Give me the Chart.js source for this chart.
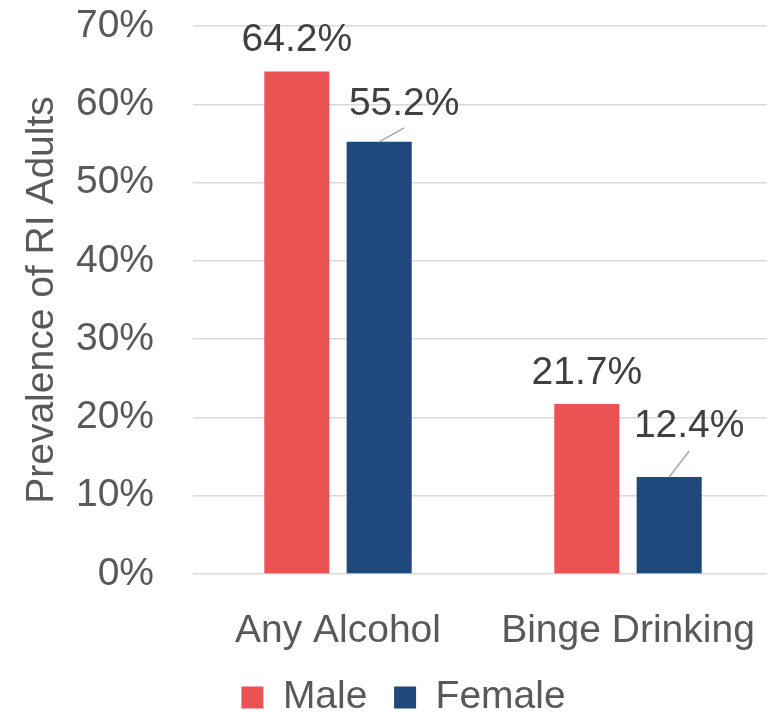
<!DOCTYPE html>
<html>
<head>
<meta charset="utf-8">
<script src="https://cdn.jsdelivr.net/npm/chart.js@4.4.0/dist/chart.umd.min.js"></script>
<style>
  html, body { margin: 0; padding: 0; background: #fff; overflow: hidden; }
  #wrap { width: 780px; height: 727px; }
</style>
</head>
<body>
<div id="wrap"><canvas id="chart" width="780" height="727"></canvas></div>
<script>
const categories = ["Any Alcohol", "Binge Drinking"];
const maleValues = [64.2, 21.7];
const femaleValues = [55.2, 12.4];
const yTicks = [0, 10, 20, 30, 40, 50, 60, 70];

const FONT = "'Liberation Sans', Arial, sans-serif";
const FS = 39;

// where Excel had the labels dragged to (pixels from bar top centre)
const labelPlacement = [
  [{ dx: 0, dy: -20 }, { dx: 0, dy: -20 }],
  [{ dx: 25, dy: -27, lx: 25, ly: -14 }, { dx: 20, dy: -40, lx: 20, ly: -26 }]
];

const valueLabels = {
  id: "valueLabels",
  beforeDraw(chart) {
    // nudge legend right of the canvas centre, like the original
    const lg = chart.legend;
    if (lg) { lg.left += 17; lg.right += 17; }
  },
  afterDatasetsDraw(chart) {
    const ctx = chart.ctx;
    ctx.save();
    chart.data.datasets.forEach((ds, di) => {
      const meta = chart.getDatasetMeta(di);
      meta.data.forEach((bar, i) => {
        const p = labelPlacement[di][i];
        if (p.lx !== undefined) {
          ctx.strokeStyle = "#a6a6a6";
          ctx.lineWidth = 1.5;
          ctx.beginPath();
          ctx.moveTo(bar.x, bar.y);
          ctx.lineTo(bar.x + p.lx, bar.y + p.ly);
          ctx.stroke();
        }
        ctx.fillStyle = "#404040";
        ctx.font = FS + "px " + FONT;
        ctx.textAlign = "center";
        ctx.textBaseline = "alphabetic";
        ctx.fillText(ds.data[i].toFixed(1) + "%", bar.x + p.dx, bar.y + p.dy);
      });
    });
    ctx.restore();
  }
};

new Chart(document.getElementById("chart"), {
  type: "bar",
  data: {
    labels: categories,
    datasets: [
      {
        label: "Male  ",
        data: maleValues,
        backgroundColor: "#EA5254",
        categoryPercentage: 0.568,
        barPercentage: 0.79
      },
      {
        label: "Female",
        data: femaleValues,
        backgroundColor: "#1F487C",
        categoryPercentage: 0.568,
        barPercentage: 0.79
      }
    ]
  },
  options: {
    responsive: false,
    animation: false,
    layout: { padding: { top: 26, left: 0, right: 7, bottom: 0 } },
    plugins: {
      tooltip: { enabled: false },
      legend: {
        position: "bottom",
        labels: {
          boxWidth: 22,
          boxHeight: 22,
          padding: 5,
          color: "#595959",
          font: { family: FONT, size: FS }
        }
      }
    },
    scales: {
      x: {
        afterFit(scale) {
          scale.height = 99;
          scale.paddingLeft = 0;
          scale.paddingRight = 0;
        },
        grid: { display: false },
        border: { display: false },
        ticks: {
          color: "#595959",
          padding: 26,
          maxRotation: 0,
          font: { family: FONT, size: FS }
        }
      },
      y: {
        min: 0,
        max: 70,
        afterBuildTicks(scale) {
          scale.ticks = yTicks.map(v => ({ value: v }));
        },
        afterFit(scale) {
          scale.width = 193;
          scale.paddingTop = 0;
          scale.paddingBottom = 0;
        },
        grid: { color: "#d9d9d9", lineWidth: 1.5, drawTicks: false },
        border: { display: false },
        ticks: {
          color: "#595959",
          padding: 39,
          font: { family: FONT, size: FS },
          callback: v => v + "%"
        },
        title: {
          display: true,
          text: "Prevalence of RI Adults",
          color: "#595959",
          padding: { top: 19, bottom: 12 },
          font: { family: FONT, size: FS }
        }
      }
    }
  },
  plugins: [valueLabels]
});
</script>
</body>
</html>
